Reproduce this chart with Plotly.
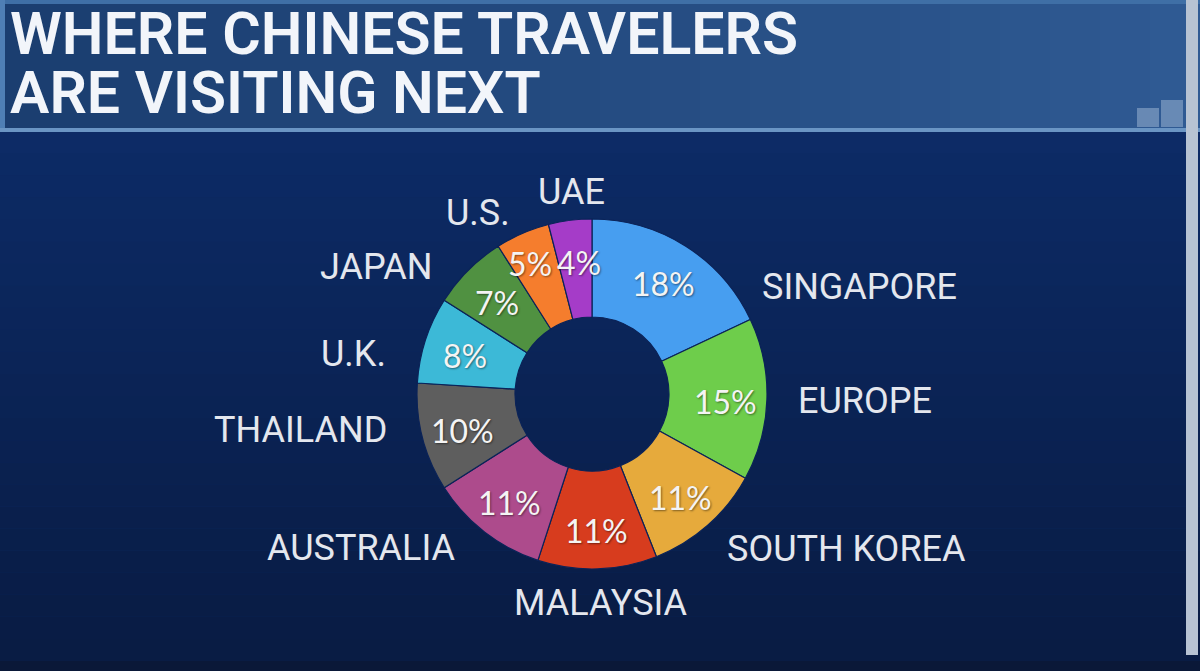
import math
import plotly.graph_objects as go

# destinations, clockwise from 12 o'clock
countries = ["SINGAPORE", "EUROPE", "SOUTH KOREA", "MALAYSIA", "AUSTRALIA",
             "THAILAND", "U.K.", "JAPAN", "U.S.", "UAE"]
shares = [18, 15, 11, 11, 11, 10, 8, 7, 5, 4]

title_lines = ["WHERE CHINESE TRAVELERS", "ARE VISITING NEXT"]

slice_colors = ["#479ef0", "#6ecd4b", "#e6aa3c", "#d73c1e", "#ad4b8c",
                "#5e5e5e", "#3cb9d7", "#509141", "#f57d2d", "#a53cc8"]

W, H = 1200, 671


def px(x, y):
    # page pixels (from top-left) -> paper coords
    return x / W, 1 - y / H


# where the names sit on the page, in pixels
label_pos = {
    "SINGAPORE": (859, 287),
    "EUROPE": (865, 401),
    "SOUTH KOREA": (846, 549),
    "MALAYSIA": (601, 603),
    "AUSTRALIA": (361, 548),
    "THAILAND": (300, 430),
    "U.K.": (353, 354),
    "JAPAN": (376, 267),
    "U.S.": (478, 213),
    "UAE": (571, 192),
}
# the two thin slices have their percents pushed apart a little
pct_nudge = {"U.S.": (-9, -11), "UAE": (4, -2)}

cx, cy, r = 592, 394, 175
r_text = 134  # radius of the percent labels

fig = go.Figure(go.Pie(
    labels=countries,
    values=shares,
    sort=False,
    direction="clockwise",
    rotation=0,
    hole=0.44,
    marker=dict(colors=slice_colors, line=dict(color="#0b2358", width=1.2)),
    textinfo="none",
    domain=dict(x=[(cx - r) / W, (cx + r) / W],
                y=[1 - (cy + r) / H, 1 - (cy - r) / H]),
    showlegend=False,
    hoverinfo="label+percent",
))

# background: title band and dark panel, built from thin strips
shapes = []
n = 24
for i in range(n):
    t = i / (n - 1)
    x0, x1 = i * W / n, (i + 1) * W / n
    rr, gg, bb = int(27 + 20 * t), int(62 + 28 * t), int(112 + 35 * t)
    shapes.append(dict(type="rect", xref="paper", yref="paper",
                       x0=x0 / W, x1=x1 / W, y0=1 - 130 / H, y1=1,
                       fillcolor=f"rgb({rr},{gg},{bb})", line_width=0, layer="below"))
for i in range(n):
    t = i / (n - 1)
    y0, y1 = 131 + i * (530 / n), 131 + (i + 1) * (530 / n)
    rr, gg, bb = int(13 - 4 * t), int(43 - 15 * t), int(102 - 34 * t)
    shapes.append(dict(type="rect", xref="paper", yref="paper",
                       x0=0, x1=1, y0=1 - y1 / H, y1=1 - y0 / H,
                       fillcolor=f"rgb({rr},{gg},{bb})", line_width=0, layer="below"))

# thin light rule under the title band
shapes.append(dict(type="rect", xref="paper", yref="paper",
                   x0=0, x1=1, y0=1 - 132 / H, y1=1 - 128 / H,
                   fillcolor="#6a95c4", line_width=0, layer="below"))
# top edge highlight
shapes.append(dict(type="rect", xref="paper", yref="paper",
                   x0=0, x1=1, y0=1 - 4 / H, y1=1,
                   fillcolor="#3f6fa6", line_width=0, layer="below"))
# lighter strip on the left of the title band
shapes.append(dict(type="rect", xref="paper", yref="paper",
                   x0=0, x1=5 / W, y0=1 - 128 / H, y1=1,
                   fillcolor="#4f7fb5", line_width=0, layer="below"))
# light strip at the right edge
shapes.append(dict(type="rect", xref="paper", yref="paper",
                   x0=1186 / W, x1=1198 / W, y0=1 - 655 / H, y1=1,
                   fillcolor="#b7c3d3", line_width=0, layer="below"))
# bottom strip
shapes.append(dict(type="rect", xref="paper", yref="paper",
                   x0=0, x1=1, y0=0, y1=1 - 661 / H,
                   fillcolor="#0a1838", line_width=0, layer="below"))
# little squares at the title band corner
for (x0, y0, x1, y1) in [(1137, 108, 1159, 127), (1161, 100, 1183, 127)]:
    shapes.append(dict(type="rect", xref="paper", yref="paper",
                       x0=x0 / W, x1=x1 / W, y0=1 - y1 / H, y1=1 - y0 / H,
                       fillcolor="rgba(175,198,225,0.45)", line_width=0, layer="below"))

annotations = []
for i, line in enumerate(title_lines):
    ax, ay = px(8, 33 + i * 59)
    annotations.append(dict(
        text=line, x=ax, y=ay, xref="paper", yref="paper",
        xanchor="left", yanchor="middle", showarrow=False, height=56,
        font=dict(family="Roboto", size=59, color="#f2f5fa", weight=600),
    ))

for name in countries:
    lx, ly = px(*label_pos[name])
    annotations.append(dict(
        text=name, x=lx, y=ly, xref="paper", yref="paper",
        xanchor="center", yanchor="middle", showarrow=False,
        font=dict(family="Roboto", size=36, color="#e4e7ee"),
    ))

# percent labels at the middle angle of each slice
total = sum(shares)
start = 0
for name, v in zip(countries, shares):
    mid = (start + v / 2) / total * 2 * math.pi
    start += v
    dx, dy = pct_nudge.get(name, (0, 0))
    tx = cx + r_text * math.sin(mid) + dx
    ty = cy + 3 - r_text * math.cos(mid) + dy
    lx, ly = px(tx, ty)
    annotations.append(dict(
        text=f"{v}%", x=lx, y=ly, xref="paper", yref="paper",
        xanchor="center", yanchor="middle", showarrow=False,
        font=dict(family="Lato", size=32, color="#f4f4f4",
                  shadow="1px 1px 2px rgba(0,0,0,0.45)"),
    ))

fig.update_layout(
    width=W, height=H,
    margin=dict(l=0, r=0, t=0, b=0),
    paper_bgcolor="#0d2a62",
    plot_bgcolor="#0d2a62",
    shapes=shapes,
    annotations=annotations,
)

fig.write_html("out.html", config={"displayModeBar": False},
               post_script="document.body.style.margin='0';")
